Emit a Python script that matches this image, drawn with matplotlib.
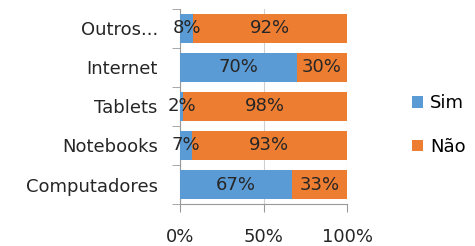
import matplotlib
matplotlib.use("Agg")
import matplotlib.pyplot as plt
import numpy as np

# data
categories = ['Computadores', 'Notebooks', 'Tablets', 'Internet', 'Outros...']
sim = [67, 7, 2, 70, 8]
nao = [33, 93, 98, 30, 92]
xticks = [0, 50, 100]

blue = '#5B9BD5'
orange = '#ED7D31'
txt = '#262626'
fs = 13
plt.rcParams['font.family'] = ['DejaVu Sans']

fig = plt.figure(figsize=(4.75, 2.46), dpi=100)
ax = fig.add_axes([180/475, 1-204/246, 167/475, 195/246])

y = np.arange(len(categories))
b1 = ax.barh(y, sim, height=0.75, color=blue, label='Sim', zorder=3)
b2 = ax.barh(y, nao, left=sim, height=0.75, color=orange, label='Não', zorder=3)

for i in range(len(categories)):
    ax.text(sim[i]/2, y[i], '%d%%' % sim[i], ha='center', va='center',
            fontsize=fs, color=txt, zorder=4)
    ax.text(sim[i] + nao[i]/2, y[i], '%d%%' % nao[i], ha='center', va='center',
            fontsize=fs, color=txt, zorder=4)

ax.set_xlim(0, 100)
ax.set_ylim(-0.5, len(categories) - 0.5)
ax.set_xticks(xticks)
ax.set_xticklabels(['%d%%' % t for t in xticks], fontsize=fs, color=txt)
ax.set_yticks(y)
ax.set_yticklabels(categories, fontsize=fs, color=txt)
ax.set_yticks(np.arange(-0.5, len(categories)), minor=True)
ax.tick_params(axis='y', which='major', length=0, pad=16)
ax.tick_params(axis='y', which='minor', length=6, color='#999999')
ax.tick_params(axis='x', length=6, color='#999999', pad=11)
ax.grid(axis='x', color='#d0d0d0', lw=0.8, zorder=0)

for s in ['top', 'right']:
    ax.spines[s].set_visible(False)
ax.spines['left'].set_color('#999999')
ax.spines['bottom'].set_color('#999999')

fig.legend(handles=[b1, b2], loc='center left', bbox_to_anchor=(412/475, 1-125/246),
           frameon=False, fontsize=fs, handlelength=0.6, handleheight=0.6,
           handletextpad=0.4, labelspacing=1.4, borderpad=0, borderaxespad=0)

fig.savefig('out.png', dpi=100)
